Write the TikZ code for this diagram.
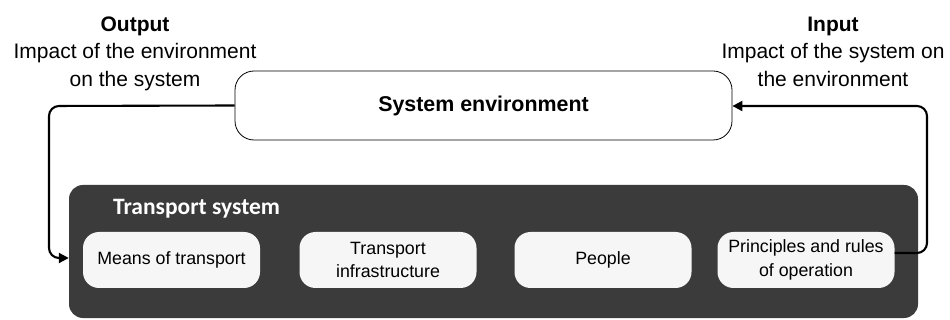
\documentclass[tikz,border=0pt]{standalone}
\usepackage{fontspec}
\setmainfont{Liberation Sans}
\newfontfamily\calibrifont{Carlito}
\usetikzlibrary{arrows.meta}
\definecolor{darkbox}{RGB}{59,59,59}
\definecolor{lightbox}{RGB}{246,246,246}
\begin{document}
\begin{tikzpicture}[x=1pt,y=-1pt,
  envbox/.style={draw=black, line width=0.8pt, rounded corners=19pt, fill=white,
    minimum width=497pt, minimum height=69pt, inner sep=0pt,
    font=\fontsize{21.4}{25}\selectfont\bfseries},
  tsbox/.style={fill=darkbox, rounded corners=14pt, minimum width=849pt,
    minimum height=133pt, inner sep=0pt},
  compbox/.style={fill=lightbox, rounded corners=16pt, minimum width=177pt,
    minimum height=56pt, inner sep=0pt, align=center,
    font=\fontsize{17.8}{23.5}\selectfont},
  toplabel/.style={align=center, inner sep=0pt,
    font=\fontsize{21}{27.5}\selectfont},
  conn/.style={line width=2.1pt, rounded corners=10pt},
  tip/.style={-{Triangle[length=10pt,width=10pt]}}
]
\useasboundingbox (0,0) rectangle (950,320);

\node[envbox] (env) at (483.5,105.5) {System environment};

\node[tsbox] (ts) at (493.5,251.5) {};
\node[anchor=base west, inner sep=0pt, text=white,
  font=\calibrifont\fontsize{23.5}{27}\selectfont\bfseries] (tstitle) at (113,215) {Transport system};

\node[compbox] (means) at (171.5,260) {Means of transport};
\node[compbox] (infra) at (388,260) {Transport\\infrastructure};
\node[compbox] (people) at (603,260) {People};
\node[compbox] (rules) at (806,260) {Principles and rules\\of operation};

\node[toplabel, anchor=north] (outlab) at (135,16.5) {\textbf{Output}\\Impact of the environment\\on the system};
\node[toplabel, anchor=north] (inlab) at (833,16.5) {\textbf{Input}\\Impact of the system on\\the environment};

\coordinate (lc1) at (49,106);
\coordinate (lc2) at (49,258);
\draw[conn, tip] (env.west) -- (lc1) -- (lc2) -- (ts.west |- lc2);

\coordinate (rc1) at (927,253);
\coordinate (rc2) at (927,106);
\draw[conn, tip] (rules.east |- rc1) -- (rc1) -- (rc2) -- (env.east |- rc2);
\end{tikzpicture}
\end{document}
